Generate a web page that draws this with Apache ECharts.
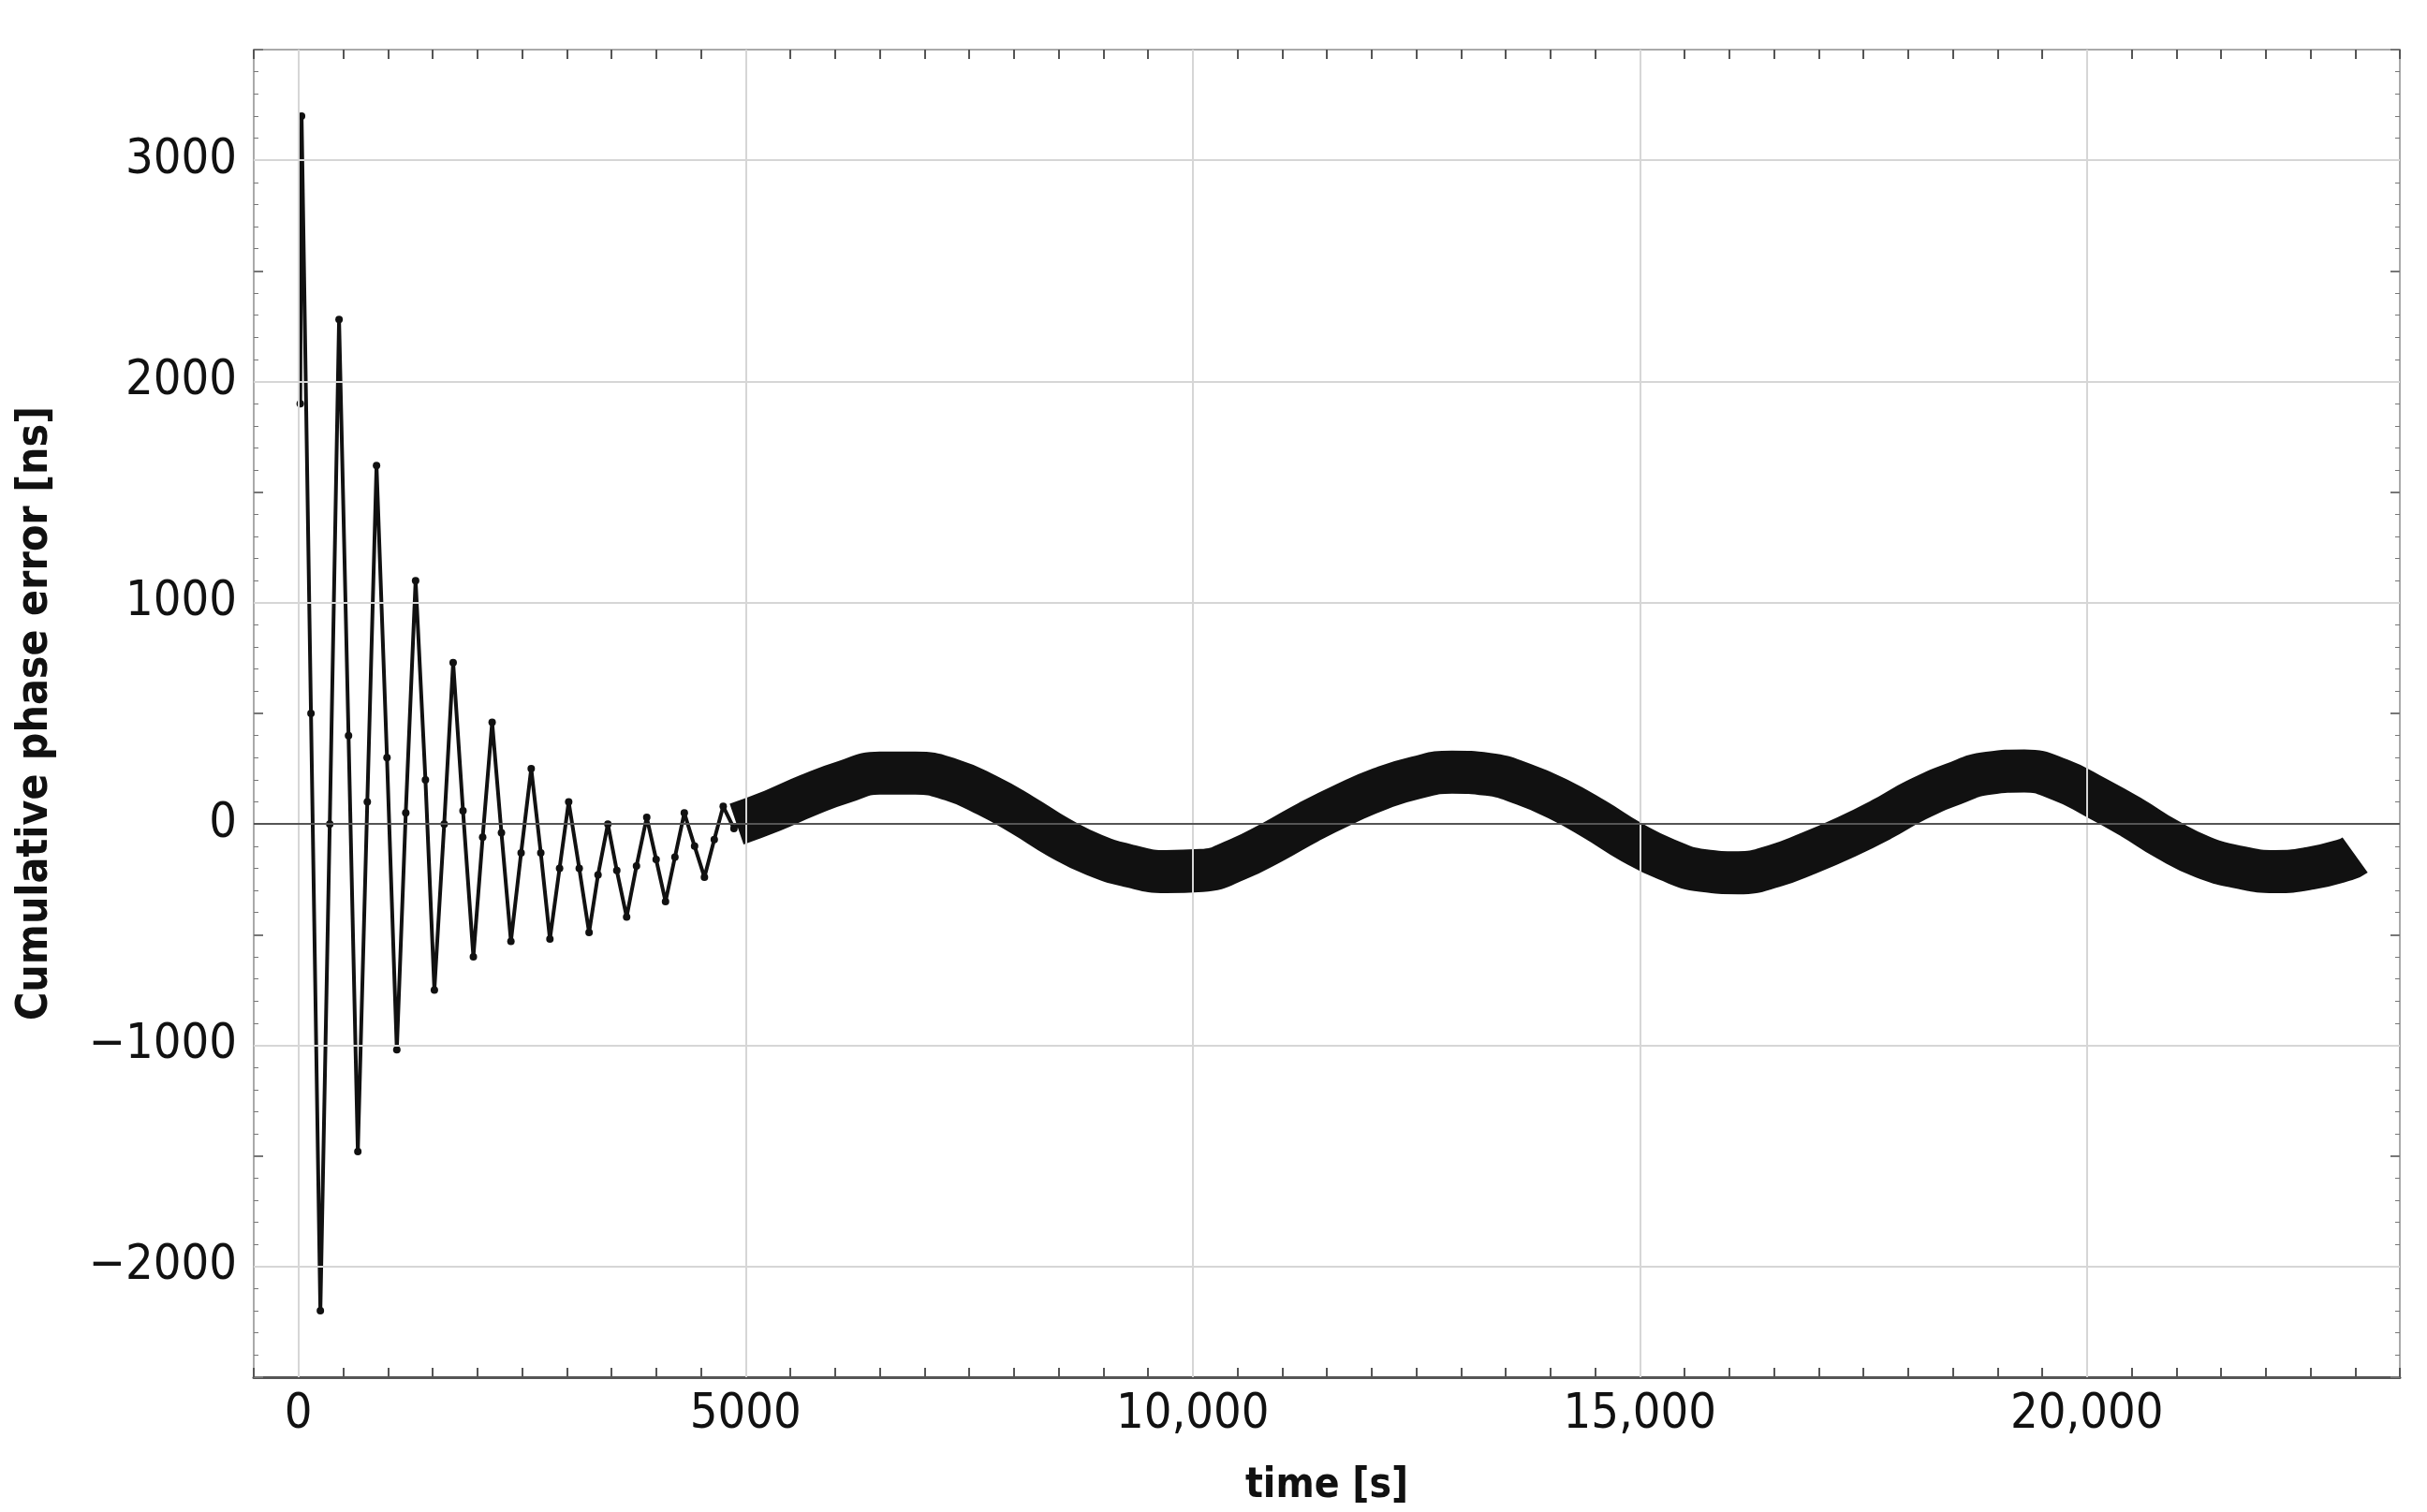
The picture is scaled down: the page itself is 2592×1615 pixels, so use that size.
<!DOCTYPE html>
<html lang="en">
<head>
<meta charset="UTF-8">
<title>Cumulative phase error</title>
<script src="https://cdn.jsdelivr.net/npm/echarts@6/dist/echarts.min.js"></script>
</head>
<style>
html,body{margin:0;padding:0;background:#fff}
#chartBox{width:2592px;height:1615px}
</style>
<body>
<div id="chartBox"></div>
<script>
// damped start: peaks and troughs [time s, ns]
const earlyPoints = [
  [20, 1900], [35, 3200], [140, 500], [245, -2200], [350, 0], [454, 2280], [560, 400],
  [664, -1480], [770, 100], [873, 1620], [990, 300], [1100, -1020], [1200, 50],
  [1310, 1100], [1420, 200], [1520, -750], [1630, 0], [1730, 730], [1840, 60],
  [1956, -600], [2060, -60], [2166, 460], [2270, -40], [2376, -530], [2490, -130],
  [2603, 250], [2710, -130], [2812, -520], [2920, -200], [3022, 100], [3140, -200],
  [3250, -490], [3350, -230], [3460, 0], [3560, -210], [3670, -420], [3780, -190],
  [3895, 30], [4000, -160], [4105, -350], [4210, -150], [4315, 50], [4430, -100],
  [4540, -240], [4650, -70], [4750, 80], [4870, -20], [4980, 20]
];
// slow oscillation band, centre line
const bandPoints = [
  [4900, 0], [5300, 60], [5700, 130], [6100, 190], [6500, 230], [6900, 230],
  [7300, 200], [7700, 130], [8100, 40], [8500, -60], [8900, -140], [9300, -190],
  [9700, -215], [10100, -210], [10500, -160], [10900, -80], [11300, 10],
  [11700, 90], [12100, 160], [12500, 210], [12900, 235], [13300, 225],
  [13700, 180], [14100, 110], [14500, 20], [14900, -80], [15300, -160],
  [15700, -210], [16100, -220], [16500, -190], [16900, -130], [17300, -60],
  [17700, 20], [18100, 110], [18500, 180], [18900, 230], [19300, 240],
  [19700, 200], [20100, 120], [20500, 30], [20900, -70], [21300, -150],
  [21700, -195], [22100, -215], [22500, -200], [22900, -160], [23000, -140]
];
const yGridValues = [-2000, -1000, 1000, 2000, 3000];
const xGridValues = [0, 5000, 10000, 15000, 20000];

const fontFam = '"DejaVu Sans Condensed", "DejaVu Sans", sans-serif';
const gridLine = {color: '#d6d6d6', width: 2, type: 'solid'};

const axisCommonX = {
    type: 'value', min: -500, max: 23500, interval: 500,
    splitLine: {show: false},
    axisLine: {onZero: false, lineStyle: {color: '#555', width: 3}},
    axisTick: {inside: true, length: 10, lineStyle: {color: '#555', width: 2}},
};
const axisCommonY = {
    type: 'value', min: -2500, max: 3500, interval: 500,
    splitLine: {show: false},
    minorTick: {show: true, splitNumber: 5, length: 5, lineStyle: {color: '#777'}},
    axisLine: {show: true, onZero: false, lineStyle: {color: '#aaa', width: 2}},
    axisTick: {inside: true, length: 10, lineStyle: {color: '#777', width: 2}},
};

const option = {
    backgroundColor: '#fff',
    animation: false,
    grid: {left: 271, right: 29, top: 53, bottom: 144},
    xAxis: [
        Object.assign({}, axisCommonX, {
            position: 'bottom',
            name: 'time [s]', nameLocation: 'middle', nameGap: 95,
            nameTextStyle: {fontFamily: fontFam, fontWeight: 'bold', fontSize: 44, color: '#111'},
            axisLabel: {
                fontFamily: fontFam, fontSize: 52, color: '#111', margin: 14,
                formatter: v => v % 5000 === 0 ? (v >= 10000 ? (v / 1000) + ',000' : String(v)) : ''
            }
        }),
        Object.assign({}, axisCommonX, {
            position: 'top', axisLabel: {show: false},
            axisLine: {onZero: false, lineStyle: {color: '#aaa', width: 2}}
        })
    ],
    yAxis: [
        Object.assign({}, axisCommonY, {
            position: 'left',
            name: 'Cumulative phase error [ns]', nameLocation: 'middle', nameGap: 210,
            nameTextStyle: {fontFamily: fontFam, fontWeight: 'bold', fontSize: 46, color: '#111'},
            axisLabel: {
                fontFamily: fontFam, fontSize: 52, color: '#111', margin: 18,
                formatter: v => v % 1000 === 0 ? (v < 0 ? '\u2212' + (-v) : String(v)) : ''
            }
        }),
        Object.assign({}, axisCommonY, {
            position: 'right', axisLabel: {show: false}
        })
    ],
    series: [
        {
            // grid lines only
            type: 'line', data: [], z: 1,
            markLine: {
                silent: true, symbol: 'none', label: {show: false},
                data: yGridValues.map(v => ({yAxis: v, lineStyle: gridLine}))
                    .concat(xGridValues.map(v => ({xAxis: v, lineStyle: gridLine})))
                    .concat([{yAxis: 0, lineStyle: {color: '#555', width: 2, type: 'solid'}}])
            }
        },
        {
            type: 'line', data: earlyPoints, symbol: 'circle', symbolSize: 8,
            itemStyle: {color: '#111'},
            lineStyle: {color: '#111', width: 4}, z: 3
        },
        {
            type: 'line', data: bandPoints, symbol: 'none', smooth: true,
            lineStyle: {color: '#111', width: 46, cap: 'butt', join: 'round'}, z: 3
        }
    ]
};

echarts.init(document.getElementById('chartBox')).setOption(option);
</script>
</body>
</html>
